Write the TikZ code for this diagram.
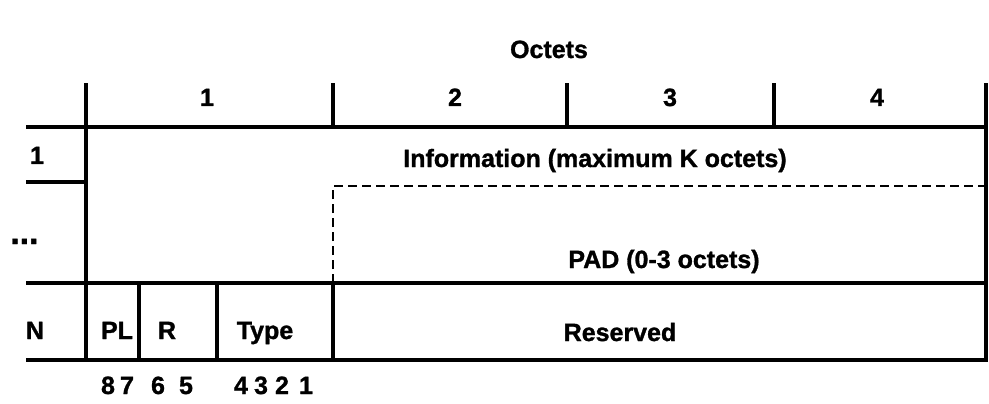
\documentclass[tikz,border=0pt]{standalone}
\usepackage{fontspec}
\setmainfont{Liberation Sans}[BoldFeatures={FakeBold=1.2}]
\begin{document}
\begin{tikzpicture}[x=1pt,y=-1pt,
  lbl/.style={font=\fontsize{25}{27}\selectfont\bfseries, inner sep=0pt, anchor=base},
  rule/.style={line width=3.8pt, line cap=rect},
  dashrule/.style={line width=2.4pt, dash pattern=on 9pt off 5pt}]
\useasboundingbox (0,0) rectangle (989,404);
% grid lines
\draw[rule] (28,127) -- (986,127);
\draw[rule] (86,85) -- (86,360);
\draw[rule] (986,85) -- (986,360);
\draw[rule] (333,85) -- (333,127);
\draw[rule] (567,85) -- (567,127);
\draw[rule] (774,85) -- (774,127);
\draw[rule] (28,182) -- (86,182);
\draw[rule] (28,283) -- (986,283);
\draw[rule] (28,360) -- (986,360);
\draw[rule] (139,283) -- (139,360);
\draw[rule] (217,283) -- (217,360);
\draw[rule] (333,283) -- (333,360);
\draw[dashrule] (333,283) -- (333,186) -- (986,186);
% labels
\node[lbl] (oct) at (549,58) {Octets};
\node[lbl] (c1) at (207,106) {1};
\node[lbl] (c2) at (455,106) {2};
\node[lbl] (c3) at (670,106) {3};
\node[lbl] (c4) at (877,106) {4};
\node[lbl] (r1) at (37,164) {1};
\node[lbl] (info) at (595,167) {Information (maximum K octets)};
\node[lbl, anchor=base west, font=\fontsize{34}{36}\selectfont\bfseries] (dots) at (10,244) {...};
\node[lbl] (pad) at (664,268) {PAD (0-3 octets)};
\node[lbl] (n) at (35,339) {N};
\node[lbl] (pl) at (117,339) {PL};
\node[lbl] (r) at (167,339) {R};
\node[lbl] (type) at (265,339) {Type};
\node[lbl] (res) at (620,341) {Reserved};
\node[lbl] (b8) at (108,394) {8};
\node[lbl] (b7) at (127,394) {7};
\node[lbl] (b6) at (158,394) {6};
\node[lbl] (b5) at (186,394) {5};
\node[lbl] (b4) at (241,394) {4};
\node[lbl] (b3) at (261,394) {3};
\node[lbl] (b2) at (282,394) {2};
\node[lbl] (b1) at (306,394) {1};
\end{tikzpicture}
\end{document}
